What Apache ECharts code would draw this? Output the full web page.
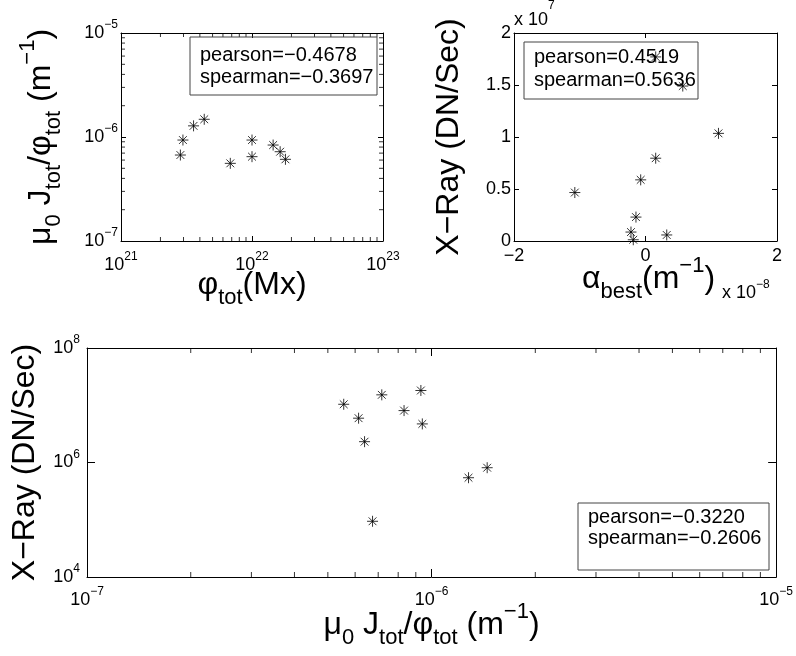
<!DOCTYPE html>
<html><head><meta charset="utf-8">
<script src="https://cdn.jsdelivr.net/npm/echarts@6/dist/echarts.min.js"></script>
<style>html,body{margin:0;padding:0;background:#fff}#c{width:796px;height:656px}</style>
</head><body><div id="c"></div><script>
// ---- data ----
// panel A: total flux vs mu0 J/phi
const fluxTot   = [2.84e21, 2.97e21, 3.58e21, 4.32e21, 6.83e21, 1.0e22, 1.0e22, 1.45e22, 1.64e22, 1.80e22];
const jPhiA     = [6.71e-7, 9.35e-7, 1.28e-6, 1.48e-6, 5.58e-7, 9.35e-7, 6.47e-7, 8.37e-7, 7.22e-7, 6.10e-7];
// panel B: alpha_best vs X-ray
const alphaBest = [-1.075e-8, -0.145e-8, -0.073e-8, 0.155e-8, 0.155e-8, 0.567e-8, 1.11e-8, -0.221e-8, -0.186e-8, 0.323e-8];
const xrayB     = [4.66e6, 2.30e6, 5.88e6, 7.96e6, 1.77e7, 1.49e7, 1.035e7, 8.6e5, 1.2e5, 5.8e5];
// panel C: mu0 J/phi vs X-ray
const jPhiC     = [5.56e-7, 6.14e-7, 6.39e-7, 7.17e-7, 6.74e-7, 8.32e-7, 9.31e-7, 9.40e-7, 1.28e-6, 1.45e-6];
const xrayC     = [1.04e7, 5.94e6, 2.31e6, 1.52e7, 9.4e4, 8.07e6, 1.81e7, 4.72e6, 5.42e5, 8.11e5];
// correlation annotations
const statsA = ['pearson=\u22120.4678', 'spearman=\u22120.3697'];
const statsB = ['pearson=0.4519', 'spearman=0.5636'];
const statsC = ['pearson=\u22120.3220', 'spearman=\u22120.2606'];
// linear axis tick labels (panel B, in units of the axis multipliers)
const alphaTicks = [-2, 0, 2];
const xrayTicksB = [0, 0.5, 1, 1.5, 2];
// log-axis minor tick multipliers (MATLAB style 2..9 per decade)
const minorMult = [2, 3, 4, 5, 6, 7, 8, 9];

const FONT = "'Liberation Sans', Arial, Helvetica, sans-serif";
const zip = (a, b) => a.map((v, i) => [v, b[i]]);
const minus = n => (n < 0 ? '\u2212' + (-n) : '' + n);

const tickRich = {
  b: {fontSize: 18, lineHeight: 28, verticalAlign: 'middle', fontFamily: FONT, color: '#000'},
  s: {fontSize: 12, lineHeight: 12, verticalAlign: 'top', fontFamily: FONT, color: '#000'}
};
const multRich = {
  b: {fontSize: 18, lineHeight: 40, verticalAlign: 'middle', fontFamily: FONT, color: '#000'},
  s: {fontSize: 12, lineHeight: 12, verticalAlign: 'top', fontFamily: FONT, color: '#000'}
};
function powLabel(v) { const e = Math.round(Math.log10(v)); return '{b|10}{s|' + minus(e) + '}'; }

const titleRich = {
  m: {fontSize: 32, lineHeight: 48, verticalAlign: 'middle', fontFamily: FONT, color: '#000'},
  d: {fontSize: 22, lineHeight: 22, verticalAlign: 'bottom', fontFamily: FONT, color: '#000'},
  u: {fontSize: 22, lineHeight: 22, verticalAlign: 'top', fontFamily: FONT, color: '#000'}
};
const jPhiName = '{m|\u03bc}{d|0}{m| J}{d|tot}{m|/\u03c6}{d|tot}{m| (m}{u|\u22121}{m|)}';
const xrayName = '{m|X\u2212Ray (DN/Sec)}';

function addName(ax, name, nameGap, namePad) {
  if (name) {
    ax.name = name; ax.nameLocation = 'middle'; ax.nameGap = nameGap; ax.nameMoveOverlap = false;
    ax.nameTextStyle = {rich: titleRich, padding: namePad || 0};
  }
  return ax;
}
function logAxis(grid, pos, min, max, interval, showLabel, margin, tickLen, name, nameGap) {
  return addName({
    type: 'log', logBase: 10, gridIndex: grid, position: pos, min: min, max: max, interval: interval,
    axisLine: {show: true, onZero: false, lineStyle: {color: '#000', width: 1}},
    axisTick: {show: true, inside: true, length: tickLen, lineStyle: {color: '#000', width: 1}},
    splitLine: {show: false},
    axisLabel: {show: showLabel, margin: margin, formatter: powLabel, rich: tickRich, showMinLabel: true, showMaxLabel: true}
  }, name, nameGap);
}
function valAxis(grid, pos, min, max, interval, scale, showLabel, margin, tickLen, name, nameGap, namePad) {
  return addName({
    type: 'value', gridIndex: grid, position: pos, min: min, max: max, interval: interval,
    axisLine: {show: true, onZero: false, lineStyle: {color: '#000', width: 1}},
    axisTick: {show: true, inside: true, length: tickLen, lineStyle: {color: '#000', width: 1}},
    splitLine: {show: false},
    axisLabel: {show: showLabel, margin: margin, fontSize: 18, lineHeight: 18, fontFamily: FONT, color: '#000',
      formatter: v => { const t = Math.round(v / scale * 10) / 10; return t < 0 ? '\u2212' + (-t) : '' + t; }}
  }, name, nameGap, namePad);
}

// minor ticks for log axes: thin rect symbols placed through the axes' own scales
function decadeMinor(e0, e1) {
  const out = [];
  for (let e = e0; e < e1; e++) minorMult.forEach(m => out.push(m * Math.pow(10, e)));
  return out;
}
function minorTicks(xi, yi, vals, anchor, side, len) {
  const horiz = side === 'b' || side === 't';
  const data = vals.map(v => horiz ? [v, anchor] : [anchor, v]);
  const off = {b: [0, -len / 2], t: [0, len / 2], l: [len / 2, 0], r: [-len / 2, 0]}[side];
  return {
    type: 'scatter', xAxisIndex: xi, yAxisIndex: yi, data: data, symbol: 'rect',
    symbolSize: horiz ? [1, len] : [len, 1], symbolOffset: off, clip: false, silent: true,
    itemStyle: {color: '#000'}, emphasis: {disabled: true}, z: 2
  };
}

const star = 'path://M5 0L5 10M0 5L10 5M1.46 1.46L8.54 8.54M1.46 8.54L8.54 1.46';
function scatter(xi, yi, data) {
  return {type: 'scatter', xAxisIndex: xi, yAxisIndex: yi, data: data, symbol: star, symbolSize: 11,
    itemStyle: {color: 'rgba(0,0,0,0)', borderColor: '#000', borderWidth: 1}, emphasis: {disabled: true}, silent: true, z: 3};
}
function statBox(x, y, w, h, tx, ty, lh, lines) {
  return [
    {type: 'rect', shape: {x: x, y: y, width: w, height: h}, style: {fill: 'none', stroke: '#444', lineWidth: 1}, z: 5, silent: true},
    {type: 'text', x: tx, y: ty, style: {text: lines.join('\n'), fontSize: 20, fontFamily: FONT, fill: '#000', lineHeight: lh, align: 'left', verticalAlign: 'top'}, z: 5, silent: true}
  ];
}

const option = {
  animation: false,
  backgroundColor: '#fff',
  grid: [
    {left: 121, top: 33, width: 262, height: 208},
    {left: 514, top: 33, width: 263, height: 208},
    {left: 87, top: 348, width: 692, height: 229}
  ],
  xAxis: [
    logAxis(0, 'bottom', 1e21, 1e23, 1, true, 10, 5, '{m|\u03c6}{d|tot}{m|(Mx)}', 20),
    logAxis(0, 'top', 1e21, 1e23, 1, false, 0, 5),
    valAxis(1, 'bottom', alphaTicks[0] * 1e-8, alphaTicks[alphaTicks.length - 1] * 1e-8, 2e-8, 1e-8, true, 6, 5,
      '{m|\u03b1}{d|best}{m|(m}{u|\u22121}{m|)}', 14, [0, 0, 0, 6]),
    valAxis(1, 'top', -2e-8, 2e-8, 2e-8, 1e-8, false, 0, 5),
    logAxis(2, 'bottom', 1e-7, 1e-5, 1, true, 9, 8, jPhiName, 24),
    logAxis(2, 'top', 1e-7, 1e-5, 1, false, 0, 8)
  ],
  yAxis: [
    logAxis(0, 'left', 1e-7, 1e-5, 1, true, 3, 5, jPhiName, 56),
    logAxis(0, 'right', 1e-7, 1e-5, 1, false, 0, 5),
    valAxis(1, 'left', xrayTicksB[0] * 1e7, xrayTicksB[xrayTicksB.length - 1] * 1e7, 5e6, 1e7, true, 3, 5,
      xrayName, 41),
    valAxis(1, 'right', 0, 2e7, 5e6, 1e7, false, 0, 5),
    logAxis(2, 'left', 1e4, 1e8, 2, true, 7, 8, xrayName, 38),
    logAxis(2, 'right', 1e4, 1e8, 2, false, 0, 8)
  ],
  series: [
    minorTicks(0, 0, decadeMinor(21, 23), 1e-7, 'b', 4),
    minorTicks(0, 0, decadeMinor(21, 23), 1e-5, 't', 4),
    minorTicks(0, 0, decadeMinor(-7, -5), 1e21, 'l', 4),
    minorTicks(0, 0, decadeMinor(-7, -5), 1e23, 'r', 4),
    minorTicks(4, 4, decadeMinor(-7, -5), 1e4, 'b', 5),
    minorTicks(4, 4, decadeMinor(-7, -5), 1e8, 't', 5),
    scatter(0, 0, zip(fluxTot, jPhiA)),
    scatter(2, 2, zip(alphaBest, xrayB)),
    scatter(4, 4, zip(jPhiC, xrayC))
  ],
  graphic: [].concat(
    statBox(190, 37, 187, 58, 200, 44, 22, statsA),
    statBox(524, 42, 174, 57, 534, 45.5, 23, statsB),
    statBox(578, 503, 191, 67, 588, 506.5, 21, statsC),
    [
      {type: 'text', x: 514, y: 0, style: {text: '{b|x 10}{s|7}', rich: multRich, fill: '#000'}, silent: true},
      {type: 'text', x: 722, y: 279, style: {text: '{b|x 10}{s|\u22128}', rich: tickRich, fill: '#000'}, silent: true}
    ]
  )
};
const chart = echarts.init(document.getElementById('c'), null, {renderer: 'canvas'});
chart.setOption(option);
</script></body></html>
